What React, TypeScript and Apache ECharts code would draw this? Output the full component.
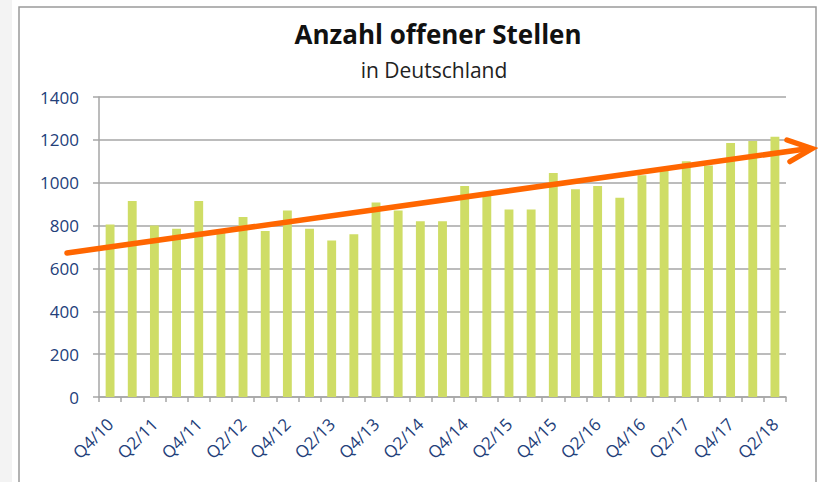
import React, { useEffect, useRef } from "react";
import * as echarts from "echarts";

const categories = [
  "Q4/10", "Q1/11", "Q2/11", "Q3/11", "Q4/11", "Q1/12", "Q2/12", "Q3/12",
  "Q4/12", "Q1/13", "Q2/13", "Q3/13", "Q4/13", "Q1/14", "Q2/14", "Q3/14",
  "Q4/14", "Q1/15", "Q2/15", "Q3/15", "Q4/15", "Q1/16", "Q2/16", "Q3/16",
  "Q4/16", "Q1/17", "Q2/17", "Q3/17", "Q4/17", "Q1/18", "Q2/18",
];
const openPositions = [
  805, 915, 800, 785, 915, 765, 840, 775,
  870, 785, 730, 760, 908, 870, 820, 820,
  985, 940, 875, 875, 1045, 970, 985, 930,
  1035, 1060, 1100, 1080, 1185, 1195, 1215,
];
const titleText = "Anzahl offener Stellen";
const subtitleText = "in Deutschland";

export default function App() {
  const ref = useRef<HTMLDivElement>(null);
  useEffect(() => {
    if (!ref.current) return;
    const chart = echarts.init(ref.current, null, { renderer: "svg" });
    const labelColor = "#23407a";
    const gridColor = "#a6a6a6";
    const font = "'Open Sans', Lato, sans-serif";
    chart.setOption({
      animation: false,
      backgroundColor: "#ffffff",
      grid: { left: 99, right: 32, top: 97, bottom: 85, containLabel: false },
      xAxis: {
        type: "category",
        data: categories,
        boundaryGap: true,
        axisLine: { show: true, lineStyle: { color: gridColor, width: 1.5 } },
        axisTick: { show: true, interval: 0, length: 5, lineStyle: { color: gridColor, width: 1.5 } },
        axisLabel: {
          interval: 1,
          rotate: 45,
          color: labelColor,
          fontFamily: font,
          fontSize: 17,
          margin: 24,
        },
        splitLine: { show: false },
      },
      yAxis: {
        type: "value",
        min: 0,
        max: 1400,
        interval: 200,
        axisLine: { show: true, lineStyle: { color: gridColor, width: 1.5 } },
        axisTick: { show: true, length: 6, lineStyle: { color: gridColor, width: 1.5 } },
        axisLabel: {
          color: labelColor,
          fontFamily: font,
          fontSize: 17,
          margin: 20,
          formatter: (v: number) => String(v),
        },
        splitLine: { show: true, lineStyle: { color: gridColor, width: 1.5 } },
      },
      series: [
        {
          type: "bar",
          data: openPositions,
          barWidth: "40%",
          itemStyle: { color: "#cfdd66" },
        },
      ],
      graphic: [
        { type: "rect", silent: true, shape: { x: 0, y: 0, width: 12, height: 482 }, style: { fill: "#f3f3f3" } },
        {
          type: "rect",
          silent: true,
          shape: { x: 19, y: 7, width: 797, height: 490 },
          style: { fill: "none", stroke: "#9a9a9a", lineWidth: 1.5 },
        },
        {
          type: "text",
          x: 438,
          y: 34,
          style: {
            text: titleText,
            fontFamily: font,
            fontWeight: "bold",
            fontSize: 26,
            fill: "#111111",
            align: "center",
            verticalAlign: "middle",
          },
        },
        {
          type: "text",
          x: 434,
          y: 70,
          style: {
            text: subtitleText,
            fontFamily: font,
            fontSize: 21,
            fill: "#222222",
            align: "center",
            verticalAlign: "middle",
          },
        },
        {
          type: "line",
          silent: true,
          z: 100,
          shape: { x1: 67, y1: 253, x2: 809, y2: 148.5 },
          style: { stroke: "#ff6600", lineWidth: 5.5, lineCap: "round" },
        },
        {
          type: "polyline",
          silent: true,
          z: 100,
          shape: { points: [[787, 140], [812, 148.5], [790, 161.5]] },
          style: { stroke: "#ff6600", fill: "none", lineWidth: 5.5, lineCap: "round", lineJoin: "miter" },
        },
      ],
    });
    return () => chart.dispose();
  }, []);
  return (
    <div
      ref={ref}
      style={{ position: "fixed", left: 0, top: 0, width: 818, height: 482 }}
    />
  );
}
